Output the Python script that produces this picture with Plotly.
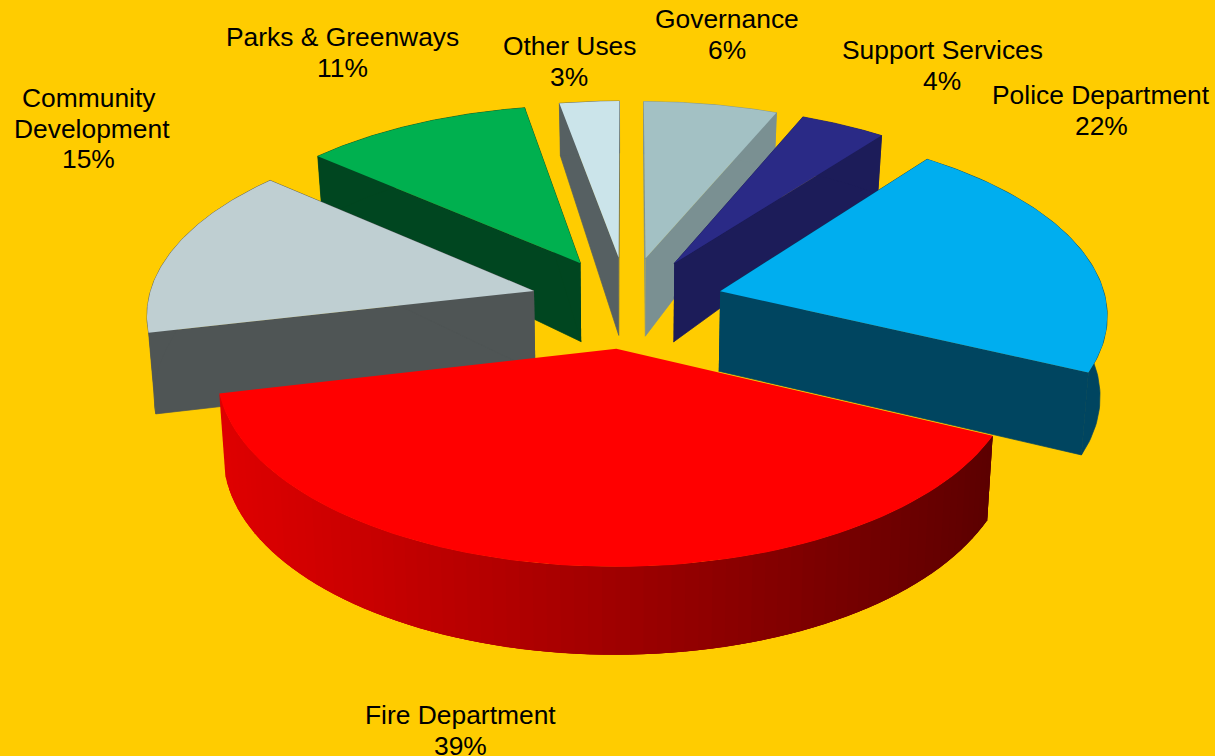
import numpy as np
import plotly.graph_objects as go

categories = ["Governance", "Support Services", "Police Department", "Fire Department",
              "Community Development", "Parks & Greenways", "Other Uses"]
values = [6.33, 4.06, 21.65, 39.35, 15.0, 10.78, 2.83]
top_colors = ["#A3C1C4", "#2A2A86", "#00AEEF", "#FF0000", "#BFCFD2", "#00B04F", "#CBE4EA"]
side_colors = ["#7A9092", "#1C1C59", "#004560", None, "#4F5555", "#004620", "#566062"]
explode = [0.25, 0.25, 0.25, 0.25, 0.25, 0.25, 0.25]
draw_order = [0, 1, 6, 5, 2, 4, 3]
label_lines = [["Governance"], ["Support Services"], ["Police Department"], ["Fire Department"],
               ["Community", "Development"], ["Parks & Greenways"], ["Other Uses"]]
label_xs = [[727, 727], [942, 942], [1101, 1101], [460, 460], [88.5, 92, 88], [342, 342], [569, 569]]
label_ys = [19, 50, 95, 715, 98, 37, 46]

BG = "#FFCC00"
CX, CY = 627.0, 302.0
A, B, K = 183.0, 386.0, 0.11


def project(X, Y):
    X, Y = np.asarray(X, float), np.asarray(Y, float)
    w = 1 + K * Y
    return CX + B * X / w, CY - A * Y / w


def lower(X, Y):
    x, y = project(X, Y)
    d = np.interp(Y, [-1.25, 0.2, 1.25], [88, 79, 52])
    return CX + (x - CX) * 0.985, y + d


def poly(fig, x, y, color, lw=0):
    fig.add_trace(go.Scatter(x=list(x), y=list(y), mode="lines", fill="toself",
                             fillcolor=color, line=dict(color=color, width=lw),
                             hoverinfo="skip", showlegend=False))


def mix(c1, c2, t):
    return "rgb(%d,%d,%d)" % tuple(round(a + (b - a) * t) for a, b in zip(c1, c2))


fig = go.Figure()
fracs = np.array(values, float) / sum(values)
edges = np.concatenate([[0], np.cumsum(fracs)]) * 2 * np.pi

for i in draw_order:
    a0, a1 = edges[i], edges[i + 1]
    mid = (a0 + a1) / 2
    ox, oy = explode[i] * np.sin(mid), explode[i] * np.cos(mid)
    t = np.linspace(a0, a1, 80)
    X, Y = ox + np.sin(t), oy + np.cos(t)
    xt, yt = project(X, Y)
    xb, yb = lower(X, Y)
    ax, ay = project(ox, oy)
    bx, by = lower(ox, oy)
    ax, ay, bx, by = float(ax), float(ay), float(bx), float(by)
    if side_colors[i] is not None:
        side = side_colors[i]
        poly(fig, [ax, xt[0], xb[0], bx], [ay, yt[0], yb[0], by], side, 0.7)
        poly(fig, [ax, xt[-1], xb[-1], bx], [ay, yt[-1], yb[-1], by], side, 0.7)
        poly(fig, list(xt) + list(xb[::-1]), list(yt) + list(yb[::-1]), side, 0.7)
    else:
        # shaded rim: dark on the right, bright on the left; strips overlap to hide seams
        n = len(t) - 1
        for j in range(n):
            s = ((xt[j] + xt[j + 1]) / 2 - xt.min()) / (xt.max() - xt.min())
            c = mix((90, 0, 0), (222, 0, 0), 1 - s)
            k = max(j - 2, 0)
            poly(fig, [xt[k], xt[j + 1], xb[j + 1], xb[k]],
                 [yt[k], yt[j + 1], yb[j + 1], yb[k]], c)
    poly(fig, [ax] + list(xt), [ay] + list(yt), top_colors[i])

annotations = []
for lines, xs, ly, v in zip(label_lines, label_xs, label_ys, values):
    step = 30.5
    for k, txt in enumerate(lines + [f"{round(v)}%"]):
        annotations.append(dict(x=xs[k], y=ly + k * step, text=txt, showarrow=False,
                                xanchor="center", yanchor="middle",
                                font=dict(family="Liberation Sans", size=26.4, color="#000000")))

fig.update_layout(
    width=1215, height=756, margin=dict(l=0, r=0, t=0, b=0),
    paper_bgcolor=BG, plot_bgcolor=BG, showlegend=False, annotations=annotations,
    xaxis=dict(range=[0, 1215], visible=False, fixedrange=True),
    yaxis=dict(range=[756, 0], visible=False, fixedrange=True),
)
fig.write_html("out.html", config={"displayModeBar": False, "responsive": False},
               post_script="document.body.style.margin='0';document.body.style.overflow='hidden';")
